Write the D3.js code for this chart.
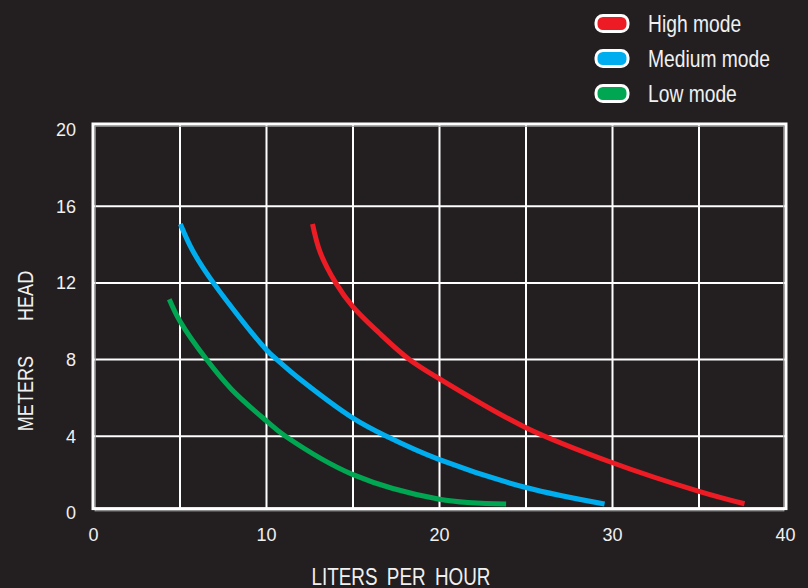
<!DOCTYPE html>
<html>
<head>
<meta charset="utf-8">
<script src="https://cdn.jsdelivr.net/npm/d3@7"></script>
<style>
  html, body { margin: 0; padding: 0; background: #231f20; }
  svg { display: block; }
  .narrow { font-family: "Liberation Sans", Arial, sans-serif; fill: #f0f0f0; }
  .tick-label { font-family: "Liberation Sans", Arial, sans-serif; font-size: 18px; fill: #f0f0f0; }
</style>
</head>
<body>
<div id="chart"></div>
<script>
// pump curves: head (m) against flow (liters per hour)

const xTicks = [0, 10, 20, 30, 40];
const yTicks = [0, 4, 8, 12, 16, 20];
const xGrid = [5, 10, 15, 20, 25, 30, 35];
const yGrid = [4, 8, 12, 16];

const seriesNames = ["High mode", "Medium mode", "Low mode"];
const seriesColors = ["#ed1c24", "#00aeef", "#00a651"];

// [flow, head] pairs
const highMode = [
  [12.66, 15.07], [13.1, 13.6], [14.0, 12.0], [15, 10.75], [16.5, 9.4],
  [18.2, 8.05], [20, 7.0], [25, 4.45], [30, 2.62], [35, 1.13], [37.63, 0.48]
];
const mediumMode = [
  [5.02, 15.07], [5.72, 13.7], [6.93, 12.0], [10, 8.5], [10.6, 8.0],
  [11.85, 7.04], [15, 4.95], [16.94, 4.0], [20, 2.78], [25, 1.33], [29.54, 0.47]
];
const lowMode = [
  [4.38, 11.15], [5, 10.0], [6.54, 8.0], [8, 6.43], [10, 4.8],
  [11.1, 4.0], [15, 2.0], [20, 0.72], [23.85, 0.47]
];
const seriesData = [highMode, mediumMode, lowMode];

// ----- layout -----
const width = 808, height = 588;
const frame = { left: 93, right: 786, top: 124, bottom: 508.6 };
const squeeze = "scale(0.82,1)"; // condensed look for titles and legend

const svg = d3.select("#chart").append("svg")
  .attr("width", width)
  .attr("height", height);

const x = d3.scaleLinear().domain([0, 40]).range([frame.left + 0.5, frame.right - 0.5]);
const y = d3.scaleLinear().domain([0, 20]).range([513, 129.5]);

// ----- grid -----
svg.append("g").selectAll("line")
  .data(xGrid)
  .enter().append("line")
  .attr("x1", d => x(d)).attr("x2", d => x(d))
  .attr("y1", frame.top).attr("y2", frame.bottom)
  .attr("stroke", "#ffffff")
  .attr("stroke-width", 2);

svg.append("g").selectAll("line")
  .data(yGrid)
  .enter().append("line")
  .attr("x1", frame.left).attr("x2", frame.right)
  .attr("y1", d => y(d)).attr("y2", d => y(d))
  .attr("stroke", "#ffffff")
  .attr("stroke-width", 2);

// frame: thin grey edge plus white border
svg.append("rect")
  .attr("x", frame.left + 2.2).attr("y", frame.top + 2.2)
  .attr("width", frame.right - frame.left - 4.4)
  .attr("height", frame.bottom - frame.top)
  .attr("fill", "none")
  .attr("stroke", "#9a9a9a")
  .attr("stroke-width", 1.2);

svg.append("rect")
  .attr("x", frame.left).attr("y", frame.top)
  .attr("width", frame.right - frame.left)
  .attr("height", frame.bottom - frame.top)
  .attr("fill", "none")
  .attr("stroke", "#ffffff")
  .attr("stroke-width", 3);

// ----- curves -----
const line = d3.line()
  .x(d => x(d[0]))
  .y(d => y(d[1]))
  .curve(d3.curveCatmullRom.alpha(0.5));

svg.append("g").selectAll("path")
  .data(seriesData)
  .enter().append("path")
  .attr("d", line)
  .attr("fill", "none")
  .attr("stroke", (d, i) => seriesColors[i])
  .attr("stroke-width", 5)
  .attr("stroke-linecap", "butt");

// ----- tick labels -----
svg.append("g").selectAll("text")
  .data(xTicks)
  .enter().append("text")
  .attr("class", "tick-label")
  .attr("x", d => x(d))
  .attr("y", 541)
  .attr("text-anchor", "middle")
  .text(d => d);

svg.append("g").selectAll("text")
  .data(yTicks)
  .enter().append("text")
  .attr("class", "tick-label")
  .attr("x", 76)
  .attr("y", d => y(d))
  .attr("dy", "0.35em")
  .attr("text-anchor", "end")
  .text(d => d);

// ----- axis titles -----
svg.append("text")
  .attr("class", "narrow")
  .attr("transform", "translate(401,585) " + squeeze)
  .attr("text-anchor", "middle")
  .style("font-size", "23px")
  .style("word-spacing", "5px")
  .text("LITERS PER HOUR");

svg.append("text")
  .attr("class", "narrow")
  .attr("transform", "translate(33,351) rotate(-90) " + squeeze)
  .attr("text-anchor", "middle")
  .style("font-size", "22px")
  .style("white-space", "pre")
  .text("METERS       HEAD");

// ----- legend -----
const legend = svg.append("g")
  .selectAll("g")
  .data(seriesNames)
  .enter().append("g")
  .attr("transform", (d, i) => "translate(595," + (23.5 + i * 35) + ")");

legend.append("rect")
  .attr("x", 1).attr("y", -8)
  .attr("width", 32).attr("height", 16)
  .attr("rx", 7).attr("ry", 7)
  .attr("fill", (d, i) => seriesColors[i])
  .attr("stroke", "#ffffff")
  .attr("stroke-width", 3);

legend.append("text")
  .attr("class", "narrow")
  .attr("transform", "translate(53,8) " + squeeze)
  .style("font-size", "23.5px")
  .text(d => d);
</script>
</body>
</html>
